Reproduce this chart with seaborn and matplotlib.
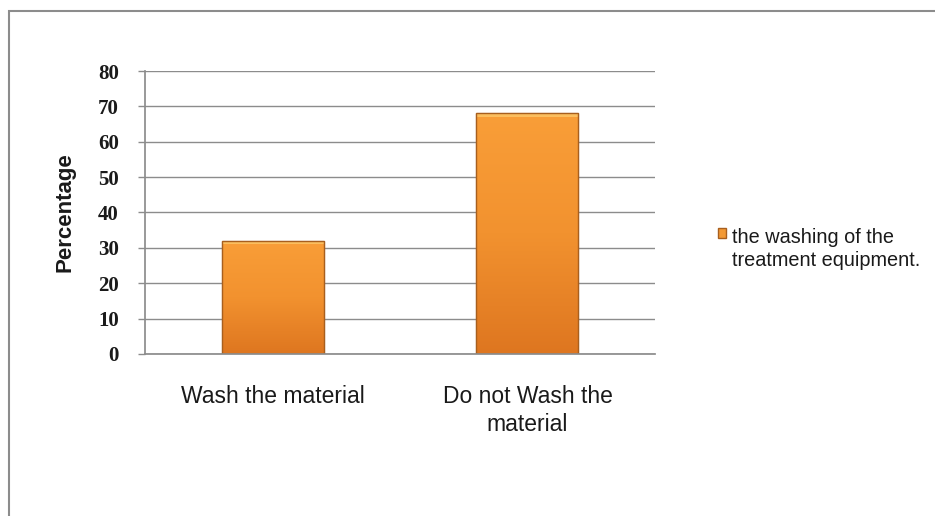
import matplotlib
matplotlib.use("Agg")
import matplotlib.pyplot as plt
import seaborn as sns
import numpy as np
from matplotlib.patches import Rectangle
from matplotlib.colors import LinearSegmentedColormap

categories = ["Wash the material", "Do not Wash the\nmaterial"]
values = [32, 68]
series_name = "the washing of the\ntreatment equipment."
y_ticks = [0, 10, 20, 30, 40, 50, 60, 70, 80]

sns.set_theme(style="white")
plt.rcParams['font.family'] = ['Liberation Sans', 'DejaVu Sans']

fig = plt.figure(figsize=(9.35, 5.16), dpi=100)
ax = fig.add_axes([0.1551, 0.314, 0.5454, 0.5484])

sns.barplot(x=categories, y=values, color="#F39A36", width=0.4,
            edgecolor="#B8661C", linewidth=0.8, ax=ax, legend=False)

# gradient fill on bars
grad = np.linspace(0, 1, 256).reshape(-1, 1)
cmap = LinearSegmentedColormap.from_list("og", ["#DE7620", "#F2922F", "#F99E38"])
for p in list(ax.patches):
    x0, y0 = p.get_x(), p.get_y()
    w, h = p.get_width(), p.get_height()
    im = ax.imshow(grad, cmap=cmap, extent=[x0, x0 + w, y0, y0 + h],
                   origin="lower", aspect="auto", zorder=p.get_zorder() + 0.1)
    im.set_clip_path(p)
    ax.add_patch(Rectangle((x0, y0 + h - 1.0), w, 1.0, facecolor="#FBBE5E",
                           edgecolor="none", zorder=p.get_zorder() + 0.2))
    ax.add_patch(Rectangle((x0, y0), w, h, facecolor="none",
                           edgecolor="#A85F1E", linewidth=1.0,
                           zorder=p.get_zorder() + 0.3))

ax.set_xlim(-0.5, 1.5)
ax.set_ylim(0, 80)
ax.set_yticks(y_ticks)
ax.yaxis.grid(True, color="#8C8C8C", linewidth=1)
ax.set_axisbelow(True)
for s in ["top", "right"]:
    ax.spines[s].set_visible(False)
ax.spines["left"].set_color("#8C8C8C")
ax.spines["bottom"].set_color("#8C8C8C")
ax.tick_params(axis="y", which="major", left=True, length=5, color="#8C8C8C",
               width=1, pad=14)
ax.tick_params(axis="x", bottom=False, pad=16)
for lbl in ax.get_yticklabels():
    lbl.set_fontfamily("Liberation Serif")
    lbl.set_fontweight("bold")
    lbl.set_fontsize(15)
    lbl.set_color("#1a1a1a")
for lbl in ax.get_xticklabels():
    lbl.set_fontsize(16.5)
    lbl.set_color("#1a1a1a")
    lbl.set_linespacing(1.3)
ax.set_ylabel("Percentage", fontsize=16, fontweight="bold", color="#1a1a1a",
              labelpad=16)
ax.set_xlabel("")

handles = [Rectangle((0, 0), 1, 1, facecolor="#F39A36", edgecolor="#A85F1E")]
leg = fig.legend(handles, [series_name], loc="upper left",
                 bbox_to_anchor=(0.759, 0.574), frameon=False, fontsize=14.3,
                 handlelength=0.42, handleheight=0.42, handletextpad=0.3,
                 borderaxespad=0)
for t in leg.get_texts():
    t.set_color("#1a1a1a")
    t.set_linespacing(1.3)
try:
    for col in leg._legend_handle_box.get_children():
        for row in col.get_children():
            row.align = "top"
except Exception:
    pass

# outer chart border
fig.patches.append(Rectangle((9 / 935, -0.1), 1.2, 1 - 11 / 516 + 0.1,
                             transform=fig.transFigure, fill=False,
                             edgecolor="#8C8C8C", linewidth=1.5))

fig.savefig("out.png", dpi=100)
